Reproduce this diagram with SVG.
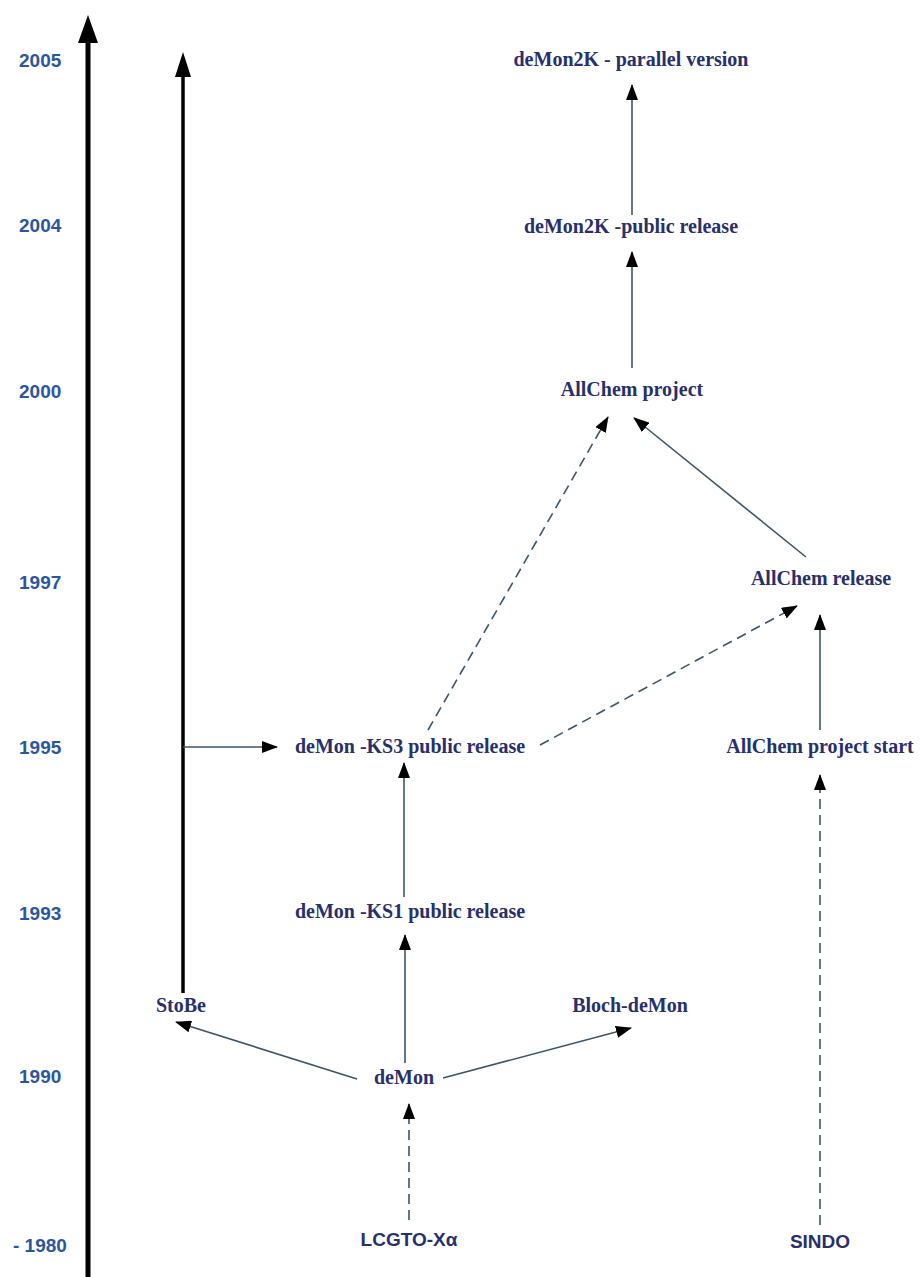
<svg xmlns="http://www.w3.org/2000/svg" width="920" height="1277" viewBox="0 0 920 1277">
<defs>
<style>
.yr{font-family:"Liberation Sans",Arial,sans-serif;font-weight:bold;font-size:19px;fill:#2c55a0}
.nd{font-family:"Liberation Serif","Times New Roman",serif;font-weight:bold;font-size:20px;fill:#27306c;text-anchor:middle}
.ns{font-family:"Liberation Sans",Arial,sans-serif;font-weight:bold;font-size:19px;fill:#27306c;text-anchor:middle}
.c{stroke:#3d5566;stroke-width:1.6;fill:none;marker-end:url(#ah)}
.d{stroke-dasharray:10 6}
</style>
<marker id="ah" viewBox="0 0 16 12" refX="15" refY="6" markerWidth="16" markerHeight="12" markerUnits="userSpaceOnUse" orient="auto">
<path d="M0,0 L16,6 L0,12 z" fill="#000"/>
</marker>
</defs>
<rect width="920" height="1277" fill="#fff"/>
<g id="timeline-axis">
<line x1="88" y1="1277" x2="88" y2="38" stroke="#000" stroke-width="5"/>
<path d="M88,15 L98,43 L78,43 z" fill="#000"/>
</g>
<g id="years">
<text class="yr" x="19" y="67">2005</text>
<text class="yr" x="19" y="232">2004</text>
<text class="yr" x="19" y="398">2000</text>
<text class="yr" x="19" y="589">1997</text>
<text class="yr" x="19" y="754">1995</text>
<text class="yr" x="19" y="920">1993</text>
<text class="yr" x="19" y="1083">1990</text>
<text class="yr" x="13" y="1252">- 1980</text>
</g>
<g id="connectors">
<line x1="183" y1="993" x2="183" y2="72" stroke="#000" stroke-width="3.5"/>
<path d="M183,52 L191,77 L175,77 z" fill="#000"/>
<line class="c" x1="183" y1="747" x2="277" y2="747"/>
<line class="c" x1="632" y1="215" x2="632" y2="85"/>
<line class="c" x1="632" y1="368" x2="632" y2="252"/>
<line class="c d" x1="428" y1="730" x2="608" y2="417"/>
<line class="c" x1="806" y1="557" x2="634" y2="418"/>
<line class="c d" x1="540" y1="745" x2="797" y2="606"/>
<line class="c" x1="820" y1="730" x2="820" y2="615"/>
<line class="c d" x1="820" y1="1225" x2="820" y2="775"/>
<line class="c" x1="404" y1="897" x2="404" y2="763"/>
<line class="c" x1="405" y1="1063" x2="405" y2="935"/>
<line class="c d" x1="409" y1="1220" x2="409" y2="1104"/>
<line class="c" x1="357" y1="1079" x2="176" y2="1022"/>
<line class="c" x1="443" y1="1078" x2="631" y2="1028"/>
</g>
<g id="node-demon2k-parallel"><text class="nd" x="631" y="66">deMon2K - parallel version</text></g>
<g id="node-demon2k-public"><text class="nd" x="631" y="233">deMon2K -public release</text></g>
<g id="node-allchem-project"><text class="nd" x="632" y="396">AllChem project</text></g>
<g id="node-allchem-release"><text class="nd" x="821" y="585">AllChem release</text></g>
<g id="node-ks3"><text class="nd" x="410" y="753">deMon -KS3 public release</text></g>
<g id="node-allchem-start"><text class="nd" x="820" y="753">AllChem project start</text></g>
<g id="node-ks1"><text class="nd" x="410" y="918">deMon -KS1 public release</text></g>
<g id="node-stobe"><text class="nd" x="181" y="1012">StoBe</text></g>
<g id="node-bloch"><text class="nd" x="630" y="1012">Bloch-deMon</text></g>
<g id="node-demon"><text class="nd" x="404" y="1084">deMon</text></g>
<g id="node-lcgto"><text class="ns" x="409" y="1246">LCGTO-Xα</text></g>
<g id="node-sindo"><text class="ns" x="820" y="1248">SINDO</text></g>
</svg>
